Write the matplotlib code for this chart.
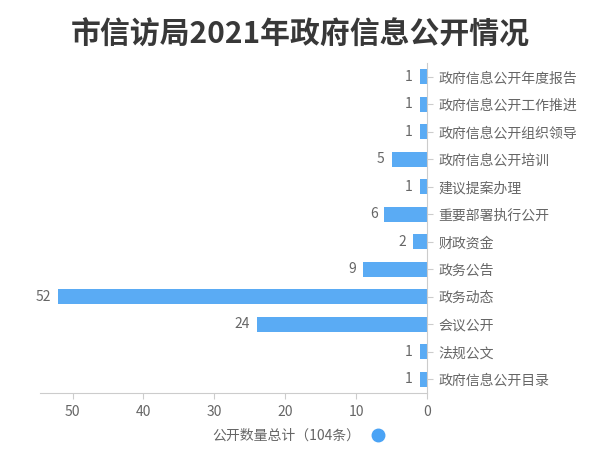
import matplotlib
matplotlib.use("Agg")
import matplotlib.pyplot as plt
from matplotlib.lines import Line2D

plt.rcParams['font.family'] = ['Noto Sans CJK SC', 'DejaVu Sans']

title = "市信访局2021年政府信息公开情况"
categories = ["政府信息公开年度报告", "政府信息公开工作推进", "政府信息公开组织领导",
              "政府信息公开培训", "建议提案办理", "重要部署执行公开", "财政资金",
              "政务公告", "政务动态", "会议公开", "法规公文", "政府信息公开目录"]
values = [1, 1, 1, 5, 1, 6, 2, 9, 52, 24, 1, 1]
xticks = [0, 10, 20, 30, 40, 50]
legend_label = "公开数量总计（104条）"

bar_color = "#5aabf4"
text_color = "#666666"
axis_color = "#cccccc"

fig = plt.figure(figsize=(6, 4.7), dpi=100)
ax = fig.add_axes([40/600, 1-393/470, (427-40)/600, (393-63)/470])

y = list(range(len(categories)))
ax.barh(y, values, height=0.53, color=bar_color, zorder=2)
for yi, v in zip(y, values):
    ax.annotate(str(v), (v, yi), xytext=(-5, 0), textcoords='offset points',
                ha='right', va='center', fontsize=10, color=text_color)

ax.set_ylim(len(categories)-0.5, -0.5)
ax.set_xlim(54.6, 0)
ax.set_yticks(y)
ax.set_yticklabels(categories)
ax.yaxis.tick_right()
ax.set_xticks(xticks)
ax.set_xticklabels([str(t) for t in xticks])

for s in ['top', 'left']:
    ax.spines[s].set_visible(False)
ax.spines['right'].set_color(axis_color)
ax.spines['bottom'].set_color(axis_color)
ax.tick_params(axis='y', which='both', direction='out', length=4, color=axis_color,
               labelsize=10, labelcolor=text_color, pad=4)
ax.tick_params(axis='x', which='both', direction='out', length=4, color=axis_color,
               labelsize=10, labelcolor=text_color, pad=5)

fig.text(0.5, 1-35/470, title, ha='center', va='center', fontsize=21.5,
         fontweight='bold', color='#383838')

handle = Line2D([], [], marker='o', linestyle='none', markersize=9,
                markerfacecolor='#4aa3f5', markeredgecolor='#4aa3f5')
fig.legend([handle], [legend_label], loc='center', bbox_to_anchor=(302/600, 1-436/470),
           frameon=False, markerfirst=False, fontsize=10, labelcolor=text_color,
           handletextpad=0.3)

fig.savefig("out.png", dpi=100)
